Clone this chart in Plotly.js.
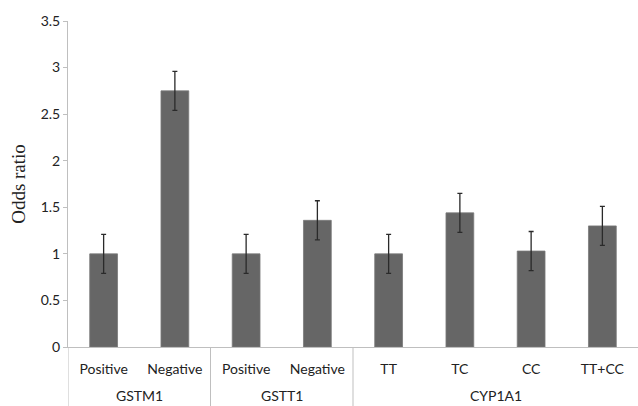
<!DOCTYPE html>
<html>
<head>
<meta charset="utf-8">
<script src="https://cdn.plot.ly/plotly-3.0.1.min.js"></script>
<style>html,body{margin:0;padding:0;background:#fff;}#chart{width:638px;height:406px;}</style>
</head>
<body>
<div id="chart"></div>
<script>
const groups = ["GSTM1", "GSTM1", "GSTT1", "GSTT1", "CYP1A1", "CYP1A1", "CYP1A1", "CYP1A1"];
const subcategories = ["Positive", "Negative", "Positive", "Negative", "TT", "TC", "CC", "TT+CC"];
const oddsRatio = [1.0, 2.75, 1.0, 1.36, 1.0, 1.44, 1.03, 1.30];
const errUpper = [0.21, 0.21, 0.21, 0.21, 0.21, 0.21, 0.21, 0.21];
const errLower = [0.21, 0.21, 0.21, 0.21, 0.21, 0.21, 0.21, 0.21];
const yTicks = [0, 0.5, 1, 1.5, 2, 2.5, 3, 3.5];
const yTickText = ["0", "0.5", "1", "1.5", "2", "2.5", "3", "3.5"];

const labelFont = "Lato, Open Sans, Liberation Sans, sans-serif";
const xPos = subcategories.map((_, i) => i);

// group spans derived from the groups array
const groupNames = [];
const groupStart = {};
const groupEnd = {};
groups.forEach((g, i) => {
  if (!(g in groupStart)) { groupNames.push(g); groupStart[g] = i; }
  groupEnd[g] = i;
});

const annotations = groupNames.map(g => ({
  x: (groupStart[g] + groupEnd[g]) / 2, xref: "x",
  y: -0.15, yref: "paper", yanchor: "middle", xanchor: "center",
  text: g, showarrow: false,
  font: {family: labelFont, size: 14, color: "#222"}
}));

const shapes = groupNames.map(g => ({
  type: "line", xref: "x", yref: "paper",
  x0: groupStart[g] - 0.5, x1: groupStart[g] - 0.5,
  y0: 0, y1: -0.19,
  line: {color: "#bfbfbf", width: 1}
}));

const trace = {
  type: "bar",
  x: xPos,
  y: oddsRatio,
  width: 0.39,
  marker: {color: "#666666", line: {color: "#7a7a7a", width: 0.8}},
  error_y: {type: "data", symmetric: false, array: errUpper, arrayminus: errLower,
            color: "#2a2a2a", thickness: 1.3, width: 2.5},
  hoverinfo: "none"
};

const layout = {
  width: 638, height: 406,
  margin: {l: 68, r: 0, t: 21, b: 59},
  paper_bgcolor: "#ffffff", plot_bgcolor: "#ffffff",
  showlegend: false,
  font: {family: labelFont, size: 14, color: "#222"},
  xaxis: {
    range: [-0.5, subcategories.length - 0.5],
    tickvals: xPos, ticktext: subcategories,
    showline: true, linecolor: "#bfbfbf", linewidth: 1,
    showgrid: false, zeroline: false, ticks: "",
    ticklabelstandoff: 9,
    tickfont: {family: labelFont, size: 14, color: "#222"},
    automargin: false
  },
  yaxis: {
    range: [0, 3.5],
    tickvals: yTicks, ticktext: yTickText,
    showline: true, linecolor: "#bfbfbf", linewidth: 1,
    ticks: "outside", ticklen: 4, tickcolor: "#bfbfbf",
    showgrid: false, zeroline: false,
    tickfont: {family: labelFont, size: 14, color: "#222"},
    title: {text: "Odds ratio", font: {family: "Liberation Serif, DejaVu Serif, serif", size: 19, color: "#222"}, standoff: 10},
    automargin: false
  },
  annotations: annotations,
  shapes: shapes
};

Plotly.newPlot("chart", [trace], layout, {displayModeBar: false, staticPlot: true});
</script>
</body>
</html>
